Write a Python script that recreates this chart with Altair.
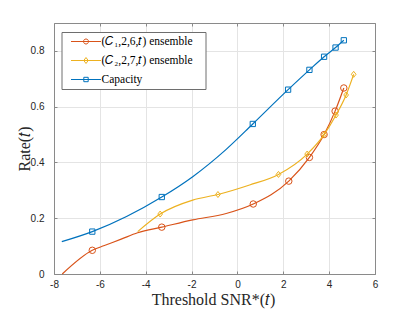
import altair as alt
import pandas as pd

# ---------------- data ----------------
series_names = ["(𝐶₁,2,6,𝑡) ensemble\u2800", "(𝐶₂,2,7,𝑡) ensemble\u2800", "Capacity"]
series_colors = ["#D95319", "#EDB120", "#0072BD"]

# curve points (lines)
c1_line_x = [-7.64, -6.33, -5.8, -5.07, -4.35, -3.3, -1.95, -0.49, 0.69, 2.24, 3.14, 3.78, 4.26, 4.64]
c1_line_y = [0.0, 0.085, 0.102, 0.125, 0.148, 0.168, 0.194, 0.217, 0.251, 0.333, 0.418, 0.500, 0.584, 0.667]
c2_line_x = [-4.35, -3.37, -1.95, -0.85, 0.53, 1.79, 3.04, 3.78, 4.30, 4.74, 5.07]
c2_line_y = [0.152, 0.215, 0.265, 0.285, 0.319, 0.357, 0.430, 0.500, 0.570, 0.642, 0.716]
cap_line_x = [-7.66, -6.33, -3.3, -1.95, -0.49, 0.67, 2.21, 3.14, 3.78, 4.28, 4.64]
cap_line_y = [0.116, 0.152, 0.276, 0.349, 0.447, 0.538, 0.661, 0.732, 0.779, 0.812, 0.838]

# marker points
c1_mark_x = [-6.33, -3.3, 0.69, 2.24, 3.14, 3.78, 4.26, 4.64]
c1_mark_y = [0.085, 0.168, 0.251, 0.333, 0.418, 0.500, 0.584, 0.667]
c2_mark_x = [-3.37, -0.85, 1.79, 3.04, 3.78, 4.30, 4.74, 5.07]
c2_mark_y = [0.215, 0.285, 0.357, 0.430, 0.500, 0.570, 0.642, 0.716]
cap_mark_x = [-6.33, -3.3, 0.67, 2.21, 3.14, 3.78, 4.28, 4.64]
cap_mark_y = [0.152, 0.276, 0.538, 0.661, 0.732, 0.779, 0.812, 0.838]

x_ticks = [-8, -6, -4, -2, 0, 2, 4, 6]
y_ticks = [0, 0.2, 0.4, 0.6, 0.8]
x_domain = [-8, 6]
y_domain = [0, 0.9]

# ---------------- styling ----------------
TXT = "#262626"
AXC = "#8a8a8a"
GRID = "#e4e4e4"
SANS = "Liberation Sans"
SERIF = "Liberation Serif"

xs = alt.Scale(domain=x_domain, nice=False, zero=False)
ys = alt.Scale(domain=y_domain, nice=False, zero=False)

x_axis_main = alt.Axis(
    values=x_ticks, labelExpr="datum.value + ''", grid=True, gridColor=GRID,
    domainColor=AXC, tickColor=AXC, tickSize={"expr": "-3"}, labelPadding=8,
    labelFlush=False,
    labelFont=SANS, labelFontSize=10, labelColor=TXT,
    title="Threshold SNR*(𝑡)", titleFont=SERIF, titleFontSize=16, titleFontWeight="normal",
    titleColor=TXT, titleX=159, titleY=30, titleBaseline="alphabetic", titleAlign="center",
)
y_axis_main = alt.Axis(
    values=y_ticks, labelExpr="datum.value + ''", grid=True, gridColor=GRID,
    domainColor=AXC, tickColor=AXC, tickSize={"expr": "-3"}, labelPadding=13,
    labelFlush=False,
    labelFont=SANS, labelFontSize=10, labelColor=TXT,
    title="Rate(𝑡)", titleFont=SERIF, titleFontSize=16, titleFontWeight="normal",
    titleColor=TXT, titleX=-24.5, titleY=125.5, titleAngle=270,
    titleBaseline="alphabetic", titleAlign="center",
)
x_axis_top = alt.Axis(orient="top", values=x_ticks, labels=False, grid=False, title=None,
                      domainColor=AXC, tickColor=AXC, tickSize={"expr": "-3"})
y_axis_right = alt.Axis(orient="right", values=y_ticks, labels=False, grid=False, title=None,
                        domainColor=AXC, tickColor=AXC, tickSize={"expr": "-3"})

line_sets = [(c1_line_x, c1_line_y), (c2_line_x, c2_line_y), (cap_line_x, cap_line_y)]
mark_sets = [(c1_mark_x, c1_mark_y), (c2_mark_x, c2_mark_y), (cap_mark_x, cap_mark_y)]
plot_shapes = ["circle", "M0,-1L0.78,0L0,1L-0.78,0Z", "square"]
plot_sizes = [42, 36, 28]

layers = []
for i in range(3):
    lx, ly = line_sets[i]
    mx, my = mark_sets[i]
    ldf = pd.DataFrame({"x": lx, "y": ly})
    mdf = pd.DataFrame({"x": mx, "y": my})
    first = (i == 0)
    line = alt.Chart(ldf).mark_line(
        interpolate="monotone", strokeWidth=1.2, color=series_colors[i]
    ).encode(
        x=alt.X("x:Q", scale=xs, axis=x_axis_main if first else None),
        y=alt.Y("y:Q", scale=ys, axis=y_axis_main if first else None),
        order=alt.Order("x:Q"),
    )
    pts = alt.Chart(mdf).mark_point(
        shape=plot_shapes[i], size=plot_sizes[i], filled=False,
        strokeWidth=1, color=series_colors[i], opacity=1
    ).encode(
        x=alt.X("x:Q", scale=xs, axis=None),
        y=alt.Y("y:Q", scale=ys, axis=None),
    )
    layers += [line, pts]

# legend symbols: line with marker in the middle (custom paths)
leg_shapes = [
    "M-2.727,0H2.727M0.4545,0A0.4545,0.4545,0,1,1,-0.4545,0A0.4545,0.4545,0,1,1,0.4545,0Z",
    "M-2.727,0H2.727M0,-0.545L0.4,0L0,0.545L-0.4,0Z",
    "M-2.727,0H2.727M-0.4,-0.4H0.4V0.4H-0.4Z",
]
leg_df = pd.DataFrame({"series": series_names, "x": [100, 100, 100], "y": [0.5, 0.5, 0.5]})
legend_layer = alt.Chart(leg_df).mark_point(
    filled=False, size=121, strokeWidth=1, clip=True, opacity=1
).encode(
    x=alt.X("x:Q", scale=xs, axis=x_axis_top),
    y=alt.Y("y:Q", scale=ys, axis=y_axis_right),
    color=alt.Color("series:N", scale=alt.Scale(domain=series_names, range=series_colors),
                    sort=series_names,
                    legend=alt.Legend(
                        title=None, orient="none", legendX=7.5, legendY=9,
                        padding=3.5, rowPadding=7, symbolOffset=15, labelOffset=9.5,
                        symbolSize=121, symbolStrokeWidth=1,
                        labelFont=SERIF, labelFontSize=11.5, labelColor="#000000",
                        labelLimit=400, strokeColor="#6e6e6e", fillColor="#ffffff",
                    )),
    shape=alt.Shape("series:N", scale=alt.Scale(domain=series_names, range=leg_shapes),
                    sort=series_names),
)
layers.append(legend_layer)

chart = alt.layer(*layers).resolve_axis(
    x="independent", y="independent"
).properties(
    width=321, height=251,
    autosize=alt.AutoSizeParams(type="none"),
    padding={"left": 46, "top": 15, "right": 30, "bottom": 38},
).configure_view(stroke=None).configure(background="#ffffff")

chart.save("out.html", embed_options={"renderer": "svg", "actions": False})
